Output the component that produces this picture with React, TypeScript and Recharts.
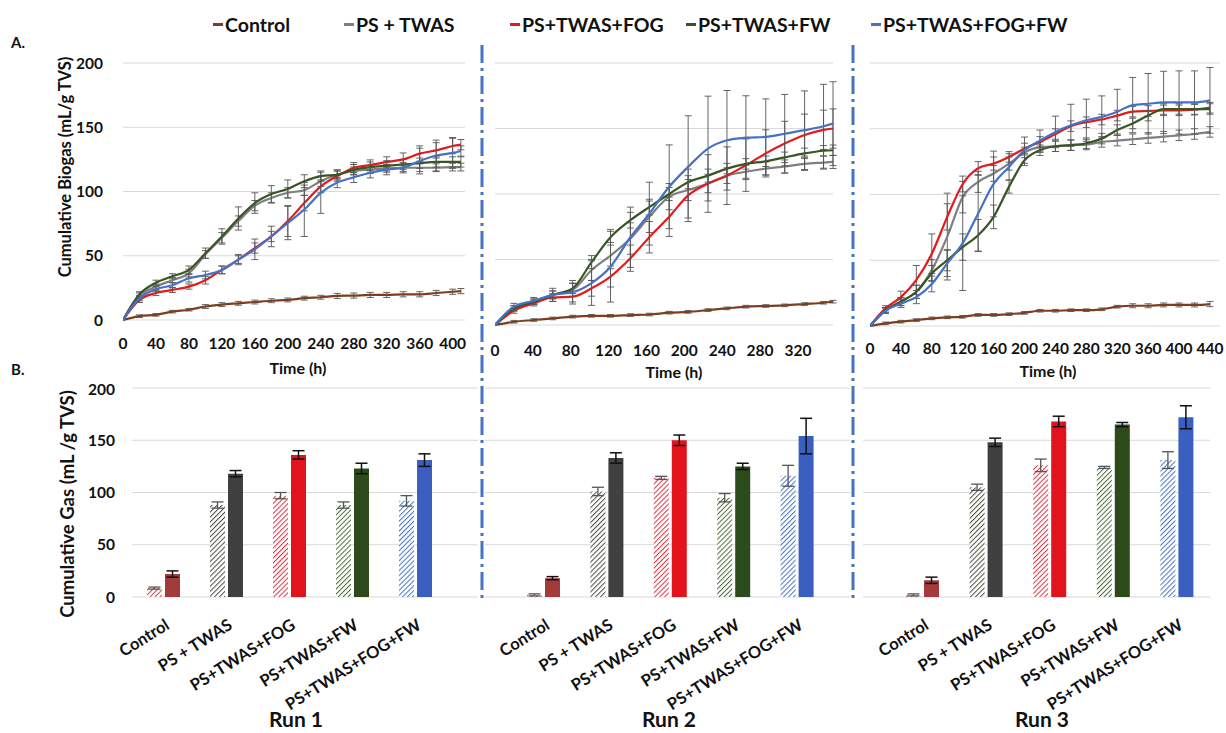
import React from 'react'
import { LineChart, Line, BarChart, Bar, Cell, XAxis, YAxis, CartesianGrid, ErrorBar } from 'recharts'

const FONT = 'Lato, "Liberation Sans", Arial, sans-serif'

const seriesNames = ['Control', 'PS + TWAS', 'PS+TWAS+FOG', 'PS+TWAS+FW', 'PS+TWAS+FOG+FW']
const keys = ['control', 'twas', 'fog', 'fw', 'fogfw']
const lineColors = ['#7b3f1f', '#7f7f7f', '#e41a1c', '#375623', '#4472c4']
const solidColors = ['#a33b3b', '#404040', '#e3131b', '#2d4a1b', '#3b5fc0']
const hatchColors = ['#c0504d', '#4d4d40', '#e03040', '#4e6b3a', '#4472c4']
const yTicks = [0, 50, 100, 150, 200]

// Run 1 cumulative biogas
const run1Time = [0, 20, 40, 60, 80, 100, 120, 140, 160, 180, 200, 220, 240, 260, 280, 300, 320, 340, 360, 380, 400, 410]
const run1Ticks = [0, 40, 80, 120, 160, 200, 240, 280, 320, 360, 400]
const run1Control = [0, 3, 4, 6.5, 8, 10.5, 12, 13, 14, 15, 15.6, 17, 17.7, 18.7, 19, 19.5, 19.5, 20, 20, 21, 22, 22.5]
const run1Twas = [0, 19, 26, 31, 36.5, 51, 64, 77, 89, 95, 99, 101, 108, 113, 116, 117, 118, 118.5, 118.5, 118.5, 119, 119]
const run1Fog = [0, 15.6, 21, 23.4, 26, 31, 39, 47, 56, 65, 77, 91, 104, 112, 118.5, 120.6, 123, 125, 129.5, 132, 135.4, 136.5]
const run1Fw = [0, 20, 29, 34, 39, 52, 65, 79, 91, 98, 102, 108, 112, 113, 117, 119, 120, 121, 122, 123, 123, 123]
const run1FogFw = [0, 17, 24, 27, 32.5, 35, 39, 47, 55, 65, 75.5, 86, 99, 107, 111, 114.6, 117, 118.5, 123.7, 128, 130, 131.5]
const run1ControlErr = [0, 1, 1, 1, 1, 1.5, 1.5, 1.5, 1.5, 1.5, 1.5, 1.5, 1.5, 2, 2, 2, 2, 2, 2, 2, 2, 2]
const run1TwasErr = [0, 2, 2, 2, 3, 3, 4, 4, 4, 4, 4, 4, 4, 3, 3, 3, 3, 3, 3, 3, 3, 3]
const run1FogErr = [0, 2, 2, 2, 2, 3, 3, 3, 4, 4, 12, 6, 5, 4, 4, 4, 4, 5, 6, 6, 6, 4]
const run1FwErr = [0, 2, 2, 2, 3, 4, 6, 9, 8, 6.5, 7, 5, 4, 4, 4, 4, 4, 4, 4, 4, 4, 4]
const run1FogFwErr = [0, 2, 2, 2, 3, 3, 3, 4, 8, 8, 13, 21, 16, 4, 4, 4, 4, 4, 10, 12, 12, 4]

// Run 2 cumulative biogas
const run2Time = [0, 20, 41, 61, 82, 102, 122, 143, 163, 184, 204, 225, 245, 265, 286, 306, 327, 347, 357]
const run2Ticks = [0, 40, 80, 120, 160, 200, 240, 280, 320]
const run2Control = [0, 2.5, 3.8, 5, 6.4, 7, 7, 7.6, 8, 9.4, 10, 11.4, 12.7, 14, 14.5, 15, 16, 17, 17.8]
const run2Twas = [0, 12.7, 17.8, 23, 26.7, 42, 53, 66, 82.6, 98, 103, 108, 114, 117, 119.4, 121, 123, 124, 124.5]
const run2Fog = [0, 11, 16.5, 21, 21.6, 28, 37, 51, 67, 82.6, 99, 108, 114, 122, 131, 138.5, 145, 149, 150]
const run2Fw = [0, 12.7, 17.8, 23, 28, 48, 67, 80, 90, 100, 109, 114, 119.4, 123, 125, 128, 131, 133, 133.4]
const run2FogFw = [0, 14, 18.5, 23, 25, 32, 44.5, 67, 85, 105.5, 120.7, 134.7, 141, 143, 143.6, 146, 148.7, 151.7, 153.7]
const run2ControlErr = [0, 1, 1, 1, 1, 1, 1, 1, 1, 1, 1, 1, 1, 1, 1, 1, 1, 1, 1]
const run2TwasErr = [0, 2, 2, 3, 5, 8, 10, 12, 12, 10, 8, 7, 6, 5, 5, 5, 5, 5, 5]
const run2FogErr = [0, 2, 2, 3, 4, 6, 8, 10, 12, 15, 20, 22, 22, 20, 18, 17, 16, 15, 15]
const run2FwErr = [0, 2, 2, 3, 4, 5, 6, 6, 6, 5, 5, 5, 4, 4, 4, 4, 4, 4, 4]
const run2FogFwErr = [0, 2.5, 2.5, 5, 9, 17, 27, 23, 24, 32, 39, 40, 38, 32, 29, 30, 30, 32, 32]

// Run 3 cumulative biogas
const run3Time = [0, 20, 40, 60, 80, 100, 120, 140, 160, 180, 200, 220, 240, 260, 280, 300, 320, 340, 360, 380, 400, 420, 440]
const run3Ticks = [0, 40, 80, 120, 160, 200, 240, 280, 320, 360, 400, 440]
const run3Control = [0, 2, 3.3, 4.5, 5.8, 6.6, 7, 8.4, 8.4, 9, 10, 11.6, 11.6, 12, 12, 12.7, 14.7, 15.4, 15.4, 16, 16, 16, 16.7]
const run3Twas = [0, 12, 18.5, 26, 42.5, 68, 98, 109.6, 116, 123.5, 132, 136, 136.7, 137.5, 138, 140, 141, 142, 143, 144, 145, 146, 147.6]
const run3Fog = [0, 13.4, 22, 35, 55, 83, 108, 120, 123.5, 128.6, 135, 140, 146, 152, 155, 157, 160, 163, 163.5, 164, 164, 164.5, 166]
const run3Fw = [0, 12, 18.5, 26, 40, 50, 60, 69, 83, 106, 126, 133.7, 136.7, 137.5, 139, 142.5, 149, 154, 160, 165, 165, 165, 165]
const run3FogFw = [0, 11.6, 17, 22, 32, 47.6, 63, 85.6, 108, 121, 133.7, 141, 147.6, 152.6, 156.5, 159, 163, 168, 169, 170, 170, 170, 171.6]
const run3ControlErr = [0, 1, 1, 1, 1, 1, 1, 1, 1, 1, 1, 1, 1, 1, 1, 1, 1, 1.5, 1.5, 1.5, 1.5, 1.5, 2]
const run3TwasErr = [0, 2, 3, 5, 8, 33, 12, 8, 6, 5, 4, 4, 4, 4, 4, 4, 4, 4, 4, 4, 4, 4, 4]
const run3FogErr = [0, 2, 4.5, 11, 15, 10, 6, 5, 5, 4, 4, 4, 4, 4, 4, 4, 4, 4, 4, 4, 4, 4, 4]
const run3FwErr = [0, 2, 3, 5, 6, 8, 10, 12, 9, 5, 4, 4, 4, 4, 4, 4, 4, 4, 4, 4, 4, 4, 4]
const run3FogFwErr = [0, 2, 3, 5, 6, 10, 36, 29, 25, 10, 10, 8, 12, 16, 16, 16, 17, 21, 23, 23.7, 24, 24, 25]

// Bottom panels: hatched and solid bars
const categories = ['Control', 'PS + TWAS', 'PS+TWAS+FOG', 'PS+TWAS+FW', 'PS+TWAS+FOG+FW']
const run1Hatched = [8.5, 88, 97, 88, 92]
const run1HatchedErr = [1, 3, 3, 3, 5]
const run1Solid = [22, 118, 136, 123, 131]
const run1SolidErr = [3, 3, 4, 5, 6]
const run2Hatched = [2, 101, 114, 95, 116]
const run2HatchedErr = [1, 4, 1.5, 4, 10]
const run2Solid = [18, 133, 150, 125, 154]
const run2SolidErr = [1.5, 5, 5, 3, 17]
const run3Hatched = [2, 105, 126, 124, 131]
const run3HatchedErr = [1, 3, 6, 1, 8]
const run3Solid = [16, 148, 168, 165, 172]
const run3SolidErr = [3, 4, 5, 2, 11]

const buildRows = (time: number[], vals: number[][], errs: number[][]) =>
  time.map((t, i) => {
    const r: any = { t }
    keys.forEach((k, j) => {
      r[k] = vals[j][i]
      r[k + 'Err'] = errs[j][i]
    })
    return r
  })

const run1Rows = buildRows(run1Time, [run1Control, run1Twas, run1Fog, run1Fw, run1FogFw],
  [run1ControlErr, run1TwasErr, run1FogErr, run1FwErr, run1FogFwErr])
const run2Rows = buildRows(run2Time, [run2Control, run2Twas, run2Fog, run2Fw, run2FogFw],
  [run2ControlErr, run2TwasErr, run2FogErr, run2FwErr, run2FogFwErr])
const run3Rows = buildRows(run3Time, [run3Control, run3Twas, run3Fog, run3Fw, run3FogFw],
  [run3ControlErr, run3TwasErr, run3FogErr, run3FwErr, run3FogFwErr])

const tickStyle = { fontSize: 15.5, fontWeight: 700, fill: '#111', fontFamily: FONT }

function LinePanel({ rows, left, width, ml, mr, xMax, xTicks, axisH, tickGap, showY }: any) {
  return (
    <div style={{ position: 'absolute', left, top: 0 }}>
      <LineChart width={width} height={360} data={rows} margin={{ top: 63, right: mr, bottom: 0, left: ml }}>
        <CartesianGrid vertical={false} stroke="#d9d9d9" strokeWidth={1.2} />
        <XAxis dataKey="t" type="number" domain={[0, xMax]} ticks={xTicks} interval={0} allowDataOverflow
          axisLine={false} tickLine={false} height={axisH} tickMargin={tickGap} tick={tickStyle} />
        <YAxis domain={[0, 200]} ticks={yTicks} hide={!showY} width={40} axisLine={false} tickLine={false}
          tickMargin={14} tick={tickStyle} />
        {keys.map((k, j) => (
          <Line key={k} dataKey={k} type="monotone" stroke={lineColors[j]} strokeWidth={2.2} dot={false}
            isAnimationActive={false}>
            <ErrorBar dataKey={k + 'Err'} direction="y" width={3.5} stroke="#555" strokeWidth={0.9} isAnimationActive={false} />
          </Line>
        ))}
      </LineChart>
    </div>
  )
}

const CatTick = ({ x, payload }: any) => (
  <g transform={`translate(${x + 7},248)`}>
    <text textAnchor="end" transform="rotate(-32)" fontSize={16.5} fontWeight={700} fill="#111" fontFamily={FONT}>
      {payload.value}
    </text>
  </g>
)

function BarPanel({ hatched, hatchedErr, solid, solidErr, left, width, ml, mr, padL, padR, showY }: any) {
  const rows = categories.map((c, i) => ({ name: c, h: hatched[i], hErr: hatchedErr[i], s: solid[i], sErr: solidErr[i] }))
  return (
    <div style={{ position: 'absolute', left, top: 380 }}>
      <BarChart width={width} height={340} data={rows} margin={{ top: 8, right: mr, bottom: 0, left: ml }}
        barSize={15} barGap={3}>
        <CartesianGrid vertical={false} stroke="#d9d9d9" strokeWidth={1.2} />
        <XAxis dataKey="name" axisLine={false} tickLine={false} height={123} interval={0}
          padding={{ left: padL, right: padR }} tick={<CatTick />} />
        <YAxis domain={[0, 200]} ticks={yTicks} hide={!showY} width={40} axisLine={false} tickLine={false}
          tickMargin={11} tick={tickStyle} />
        <Bar dataKey="h" isAnimationActive={false}>
          {rows.map((r, i) => <Cell key={i} fill={`url(#hatch${i})`} />)}
          <ErrorBar dataKey="hErr" width={6} stroke="#555" strokeWidth={1.3} isAnimationActive={false} />
        </Bar>
        <Bar dataKey="s" isAnimationActive={false}>
          {rows.map((r, i) => <Cell key={i} fill={solidColors[i]} />)}
          <ErrorBar dataKey="sErr" width={6} stroke="#111" strokeWidth={1.5} isAnimationActive={false} />
        </Bar>
      </BarChart>
    </div>
  )
}

const legendLeft = [213, 344, 510, 686, 871]

const txt = (extra: any) => ({ position: 'absolute' as const, fontFamily: FONT, fontWeight: 700, color: '#111', whiteSpace: 'nowrap' as const, ...extra })

export default function App() {
  return (
    <div style={{ position: 'absolute', left: 0, top: 0, width: 1226, height: 733, background: '#fff', overflow: 'hidden' }}>
      <svg width={0} height={0} style={{ position: 'absolute' }}>
        <defs>
          {hatchColors.map((c, i) => (
            <pattern key={i} id={`hatch${i}`} width={3.5} height={3.5} patternUnits="userSpaceOnUse" patternTransform="rotate(45)">
              <rect width={3.5} height={3.5} fill="#fff" />
              <line x1={0} y1={0} x2={0} y2={3.5} stroke={c} strokeWidth={2} />
            </pattern>
          ))}
        </defs>
      </svg>

      {seriesNames.map((n, i) => (
        <div key={n} style={txt({ left: legendLeft[i], top: 10, height: 28, display: 'flex', alignItems: 'center', fontSize: 19.5 })}>
          <span style={{ display: 'inline-block', width: 10, height: 3, background: lineColors[i], marginRight: 2 }} />
          {n}
        </div>
      ))}

      <div style={txt({ left: 11, top: 33, fontSize: 15 })}>A.</div>
      <div style={txt({ left: 11, top: 360, fontSize: 15 })}>B.</div>

      <div style={txt({ left: 65, top: 167, fontSize: 16.5, transform: 'translate(-50%,-50%) rotate(-90deg)' })}>Cumulative Biogas (mL/g TVS)</div>
      <div style={txt({ left: 67, top: 504, fontSize: 18.5, transform: 'translate(-50%,-50%) rotate(-90deg)' })}>Cumulative Gas (mL /g TVS)</div>

      <LinePanel rows={run1Rows} left={0} width={480} ml={83} mr={15} xMax={415} xTicks={run1Ticks} axisH={40} tickGap={12} showY />
      <LinePanel rows={run2Rows} left={480} width={375} ml={15} mr={22} xMax={357} xTicks={run2Ticks} axisH={35} tickGap={14} showY={false} />
      <LinePanel rows={run3Rows} left={855} width={371} ml={15} mr={6} xMax={453} xTicks={run3Ticks} axisH={34} tickGap={11} showY={false} />

      <BarPanel hatched={run1Hatched} hatchedErr={run1HatchedErr} solid={run1Solid} solidErr={run1SolidErr}
        left={0} width={480} ml={92} mr={2} padL={0} padR={31} showY />
      <BarPanel hatched={run2Hatched} hatchedErr={run2HatchedErr} solid={run2Solid} solidErr={run2SolidErr}
        left={480} width={375} ml={5} mr={5} padL={27} padR={21} showY={false} />
      <BarPanel hatched={run3Hatched} hatchedErr={run3HatchedErr} solid={run3Solid} solidErr={run3SolidErr}
        left={855} width={371} ml={8} mr={16} padL={28} padR={1} showY={false} />

      <div style={txt({ left: 298, top: 367, fontSize: 16, transform: 'translate(-50%,-50%)' })}>Time (h)</div>
      <div style={txt({ left: 674, top: 371, fontSize: 16, transform: 'translate(-50%,-50%)' })}>Time (h)</div>
      <div style={txt({ left: 1048, top: 370, fontSize: 16, transform: 'translate(-50%,-50%)' })}>Time (h)</div>

      <div style={txt({ left: 296, top: 718, fontSize: 21, transform: 'translate(-50%,-50%)' })}>Run 1</div>
      <div style={txt({ left: 669, top: 718, fontSize: 21, transform: 'translate(-50%,-50%)' })}>Run 2</div>
      <div style={txt({ left: 1042, top: 718, fontSize: 21, transform: 'translate(-50%,-50%)' })}>Run 3</div>

      <svg width={1226} height={733} style={{ position: 'absolute', left: 0, top: 0, pointerEvents: 'none' }}>
        <line x1={482} y1={45} x2={482} y2={600} stroke="#4472c4" strokeWidth={3} strokeDasharray="18 5 3 5" />
        <line x1={853} y1={45} x2={853} y2={600} stroke="#4472c4" strokeWidth={3} strokeDasharray="18 5 3 5" />
      </svg>
    </div>
  )
}
